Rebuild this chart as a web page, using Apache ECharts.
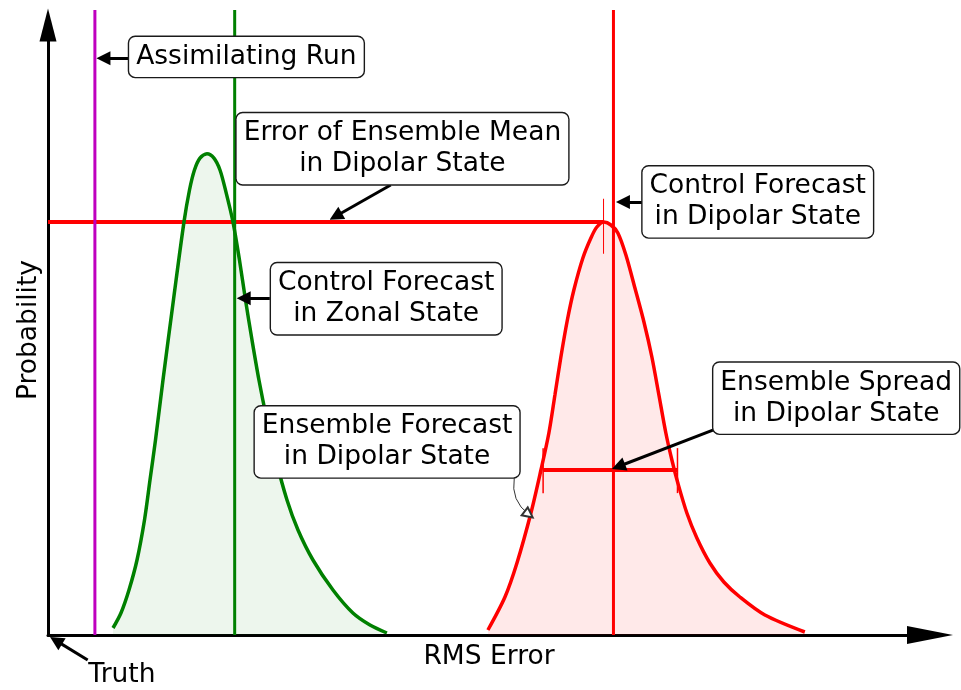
<!DOCTYPE html>
<html>
<head>
<meta charset="utf-8">
<script src="https://cdn.jsdelivr.net/npm/echarts@6/dist/echarts.min.js"></script>
<style>
  html, body { margin: 0; padding: 0; background: #fff; }
  #chart { width: 961px; height: 690px; }
</style>
</head>
<body>
<div id="chart"></div>
<script>
// curves, [rms error, probability]
const zonalCurve = [
  [7.21, 1.12], [8.09, 3.52], [8.98, 7.2], [9.87, 12.0], [10.70, 18.4], [11.31, 24.8],
  [11.92, 31.2], [12.75, 40.8], [13.91, 53.6], [15.08, 66.1], [15.69, 71.2], [16.24, 74.4],
  [16.85, 76.3], [17.63, 77.0], [18.40, 76.3], [19.07, 74.4], [19.73, 70.9], [20.51, 66.1],
  [21.23, 60.0], [21.90, 53.6], [22.62, 47.2], [23.39, 40.8], [24.28, 34.4], [25.28, 28.0],
  [26.50, 21.6], [27.72, 16.8], [29.38, 12.0], [31.60, 7.2], [33.81, 3.52], [35.70, 1.6],
  [37.58, 0.32]
]
const dipolarCurve = [
  [48.78, 0.8], [50.67, 6.08], [52.00, 11.52], [53.55, 19.52], [54.66, 26.4], [55.54, 32.32],
  [56.21, 38.4], [56.87, 44.48], [57.59, 50.4], [58.31, 55.2], [59.31, 60.32], [60.20, 63.52],
  [60.86, 65.28], [61.64, 66.08], [62.42, 65.6], [63.19, 64.32], [64.08, 60.8], [65.08, 55.52],
  [66.08, 50.08], [66.96, 44.48], [67.74, 38.4], [68.51, 32.32], [69.18, 28.0], [69.84, 24.32],
  [70.84, 19.52], [71.95, 15.52], [73.39, 11.52], [74.94, 8.48], [76.72, 6.08], [79.49, 3.2],
  [83.92, 0.48]
]
// vertical markers
const assimX = 5.2
const zonalControlX = 20.7
const dipolarControlX = 62.7
const meanErrorY = 66.1
const meanPeakX = 61.6
const spreadY = 26.4
const spreadX = [54.9, 69.8]

const annotations = [
  { name: 'Assimilating Run', value: [22.0, 92.5] },
  { name: 'Error of Ensemble Mean\nin Dipolar State', value: [39.3, 77.8] },
  { name: 'Control Forecast\nin Dipolar State', value: [78.7, 69.3] },
  { name: 'Control Forecast\nin Zonal State', value: [37.5, 53.8] },
  { name: 'Ensemble Forecast\nin Dipolar State', value: [37.6, 30.9] },
  { name: 'Ensemble Spread\nin Dipolar State', value: [87.4, 37.9] }
]
// arrow shafts; the head is centred on the end point
const arrows = [
  [[9.1, 92.3], [6.15, 92.3]],
  [[38.0, 72.0], [31.9, 67.0]],
  [[66.0, 69.3], [63.75, 69.3]],
  [[24.6, 53.9], [21.7, 53.9]],
  [[74.3, 33.1], [63.25, 26.96]],
  [[4.4, -4.0], [0.89, -0.9]]
]
const curvedArrow = [[51.7, 25.1], [53.3, 19.3]]

const font = 'DejaVu Sans'
const chart = echarts.init(document.getElementById('chart'))

const vline = (x, y0, y1, color, width) => ({
  type: 'line',
  data: [[x, y0], [x, y1]],
  showSymbol: false,
  clip: false,
  lineStyle: { color: color, width: width },
  silent: true
})
const hline = (x0, x1, y, color, width) => ({
  type: 'line',
  data: [[x0, y], [x1, y]],
  showSymbol: false,
  clip: false,
  lineStyle: { color: color, width: width },
  silent: true
})

const boxLabel = {
  show: true,
  position: 'inside',
  formatter: '{b}',
  fontFamily: font,
  fontSize: 26.5,
  lineHeight: 31,
  color: '#000',
  opacity: 1,
  align: 'center',
  backgroundColor: '#fff',
  borderColor: '#1a1a1a',
  borderWidth: 1.4,
  borderRadius: 6,
  padding: [5, 7, 4, 7]
}

chart.setOption({
  animation: false,
  textStyle: { fontFamily: font },
  grid: { left: 48, right: 31, top: 25, bottom: 55, outerBoundsMode: 'none' },
  xAxis: {
    type: 'value',
    min: 0,
    max: 97.8,
    name: 'RMS Error',
    nameLocation: 'middle',
    nameGap: 9,
    nameTextStyle: { fontSize: 26.5, color: '#000', fontFamily: font, verticalAlign: 'top' },
    axisLine: { lineStyle: { color: '#000', width: 3 }, symbol: ['none', 'triangle'], symbolSize: [18, 46] },
    axisTick: { show: false },
    axisLabel: { show: false },
    splitLine: { show: false }
  },
  yAxis: {
    type: 'value',
    min: 0,
    max: 97.6,
    name: 'Probability',
    nameLocation: 'middle',
    nameGap: 5,
    nameTextStyle: { fontSize: 26.5, color: '#000', fontFamily: font },
    axisLine: { lineStyle: { color: '#000', width: 3 }, symbol: ['none', 'triangle'], symbolSize: [17, 33] },
    axisTick: { show: false },
    axisLabel: { show: false },
    splitLine: { show: false }
  },
  series: [
    hline(0, meanPeakX, meanErrorY, '#ff0000', 4),
    {
      type: 'line',
      data: zonalCurve,
      smooth: 0.3,
      showSymbol: false,
      lineStyle: { color: '#008000', width: 3.5 },
      areaStyle: { color: 'rgba(0,128,0,0.1)' }
    },
    {
      type: 'line',
      data: dipolarCurve,
      smooth: 0.3,
      showSymbol: false,
      lineStyle: { color: '#ff0000', width: 3.5 },
      areaStyle: { color: 'rgba(255,0,0,0.12)' }
    },
    vline(assimX, 0, 100, '#bf00bf', 3),
    vline(zonalControlX, 0, 100, '#008000', 3),
    vline(dipolarControlX, 0, 100, '#ff0000', 3),
    vline(meanPeakX, 61.0, 69.8, '#ff0000', 1),
    hline(spreadX[0], spreadX[1], spreadY, '#ff0000', 4),
    vline(spreadX[0], 22.7, 29.9, '#ff0000', 1.5),
    vline(spreadX[1], 22.7, 29.9, '#ff0000', 1.5),
    {
      type: 'lines',
      coordinateSystem: 'cartesian2d',
      clip: false,
      symbol: ['none', 'triangle'],
      symbolSize: 14,
      lineStyle: { color: '#000', width: 3, opacity: 1 },
      data: arrows.map(c => ({ coords: c })),
      z: 5
    },
    {
      type: 'lines',
      coordinateSystem: 'cartesian2d',
      clip: false,
      symbol: ['none', 'emptyTriangle'],
      symbolSize: 10,
      lineStyle: { color: '#333', width: 1, opacity: 1, curveness: -0.3 },
      data: [{ coords: curvedArrow }],
      z: 5
    },
    {
      type: 'scatter',
      symbolSize: 0,
      clip: false,
      itemStyle: { opacity: 1 },
      data: annotations,
      z: 6,
      label: boxLabel
    },
    {
      type: 'scatter',
      symbolSize: 0,
      clip: false,
      itemStyle: { opacity: 1 },
      data: [{ name: 'Truth', value: [8.2, -6.4] }],
      label: {
        show: true,
        position: 'inside',
        formatter: '{b}',
        fontFamily: font,
        fontSize: 26.5,
        color: '#000',
        opacity: 1
      }
    }
  ]
})
</script>
</body>
</html>
